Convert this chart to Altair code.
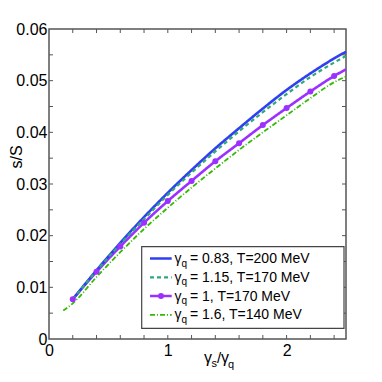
import altair as alt
import pandas as pd

# ---- data ----
series_names = ["g083_T200", "g115_T170", "g1_T170", "g16_T140"]
legend_texts = ["= 0.83, T=200 MeV", "= 1.15, T=170 MeV", "= 1, T=170 MeV", "= 1.6, T=140 MeV"]
colors = ["#2f3ff2", "#2fa87c", "#9b30ff", "#33bb00"]
dashes = [[1, 0], [4, 3], [1, 0], [5, 2, 1, 2]]

x_main = [0.2, 0.4, 0.6, 0.8, 1.0, 1.2, 1.4, 1.6, 1.8, 2.0, 2.2, 2.4, 2.5]
blue_y = [0.0077, 0.0133, 0.0186, 0.0236, 0.0283, 0.0327, 0.0369, 0.0408, 0.0446, 0.0482, 0.0514, 0.0543, 0.0556]
teal_y = [0.0077, 0.0132, 0.0184, 0.0232, 0.0279, 0.0322, 0.0363, 0.0402, 0.0439, 0.0474, 0.0507, 0.0535, 0.0548]
purple_y = [0.0077, 0.0130, 0.0179, 0.0225, 0.0267, 0.0306, 0.0344, 0.0379, 0.0414, 0.0447, 0.0479, 0.0509, 0.0522]
green_x = [0.12, 0.2, 0.4, 0.6, 0.8, 1.0, 1.2, 1.4, 1.6, 1.8, 2.0, 2.2, 2.4, 2.5]
green_y = [0.0055, 0.0069, 0.0120, 0.0168, 0.0213, 0.0254, 0.0293, 0.0330, 0.0366, 0.0400, 0.0433, 0.0466, 0.0497, 0.0508]

marker_x = [0.2, 0.4, 0.6, 0.8, 1.0, 1.2, 1.4, 1.6, 1.8, 2.0, 2.2, 2.4]
marker_y = [0.0077, 0.0130, 0.0179, 0.0225, 0.0267, 0.0306, 0.0344, 0.0379, 0.0414, 0.0447, 0.0479, 0.0509]

x_tick_vals = [0.2, 0.4, 0.6, 0.8, 1.0, 1.2, 1.4, 1.6, 1.8, 2.0, 2.2, 2.4]
y_tick_vals = [0.005, 0.01, 0.015, 0.02, 0.025, 0.03, 0.035, 0.04, 0.045, 0.05, 0.055]
x_label_vals = [0, 1, 2]
y_label_vals = [0, 0.01, 0.02, 0.03, 0.04, 0.05, 0.06]

W, H = 297, 310
FONT = "Liberation Sans"

rows = []
for name, xs, ys in [(series_names[0], x_main, blue_y), (series_names[1], x_main, teal_y),
                     (series_names[2], x_main, purple_y), (series_names[3], green_x, green_y)]:
    for xv, yv in zip(xs, ys):
        rows.append({"series": name, "x": xv, "y": yv})
df = pd.DataFrame(rows)
markers = pd.DataFrame({"x": marker_x, "y": marker_y})

xscale = alt.Scale(domain=[0, 2.5], nice=False, zero=False)
yscale = alt.Scale(domain=[0, 0.06], nice=False, zero=False)

ax_x = alt.Axis(values=x_label_vals, title=None, grid=False, ticks=False, domain=False,
                labelFontSize=16, labelFont=FONT, labelColor="black", labelPadding=3,
                labelFlush=False)
ax_y = alt.Axis(values=y_label_vals, title=None, grid=False, ticks=False, domain=False,
                labelFontSize=16, labelFont=FONT, labelColor="black", labelPadding=2,
                labelFlush=False,
                labelExpr="datum.value == 0 ? '0' : format(datum.value, '.2f')")

def X():
    return alt.X("x:Q", scale=xscale, axis=ax_x)

def Y():
    return alt.Y("y:Q", scale=yscale, axis=ax_y)

width_map = {series_names[0]: 2.6, series_names[1]: 2.2, series_names[2]: 2.6, series_names[3]: 1.8}
base_layers = []
for i, name in enumerate(series_names):
    sub = df[df.series == name]
    base_layers.append(
        alt.Chart(sub).mark_line(color=colors[i], strokeDash=dashes[i], strokeWidth=width_map[name],
                                 interpolate="monotone").encode(x=X(), y=Y())
    )

# draw order: purple, green, blue, teal
lines = [base_layers[2], base_layers[3], base_layers[0], base_layers[1]]

points = alt.Chart(markers).mark_circle(color=colors[2], size=36, opacity=1).encode(x=X(), y=Y())

# inward ticks on all four sides
xt = pd.DataFrame({"x": x_tick_vals})
yt = pd.DataFrame({"y": y_tick_vals})
tick_color = "#555"
tb = alt.Chart(xt).mark_rule(color=tick_color, strokeWidth=1).encode(
    x=X(), y=alt.value(H), y2=alt.value(H - 4))
tt = alt.Chart(xt).mark_rule(color=tick_color, strokeWidth=1).encode(
    x=X(), y=alt.value(0), y2=alt.value(4))
tl = alt.Chart(yt).mark_rule(color=tick_color, strokeWidth=1).encode(
    y=Y(), x=alt.value(0), x2=alt.value(4))
tr = alt.Chart(yt).mark_rule(color=tick_color, strokeWidth=1).encode(
    y=Y(), x=alt.value(W), x2=alt.value(W - 4))

# legend
one = pd.DataFrame({"a": [0]})
leg_box = alt.Chart(one).mark_rect(fill="white", stroke="#444", strokeWidth=1.2).encode(
    x=alt.value(92.7), x2=alt.value(295), y=alt.value(217.7), y2=alt.value(299.3))
row_y = [229.5, 248.3, 267.0, 285.8]
leg_layers = [leg_box]

def txt(s, x, y, size, angle=None, baseline="alphabetic", align="left"):
    kw = dict(font=FONT, fontSize=size, align=align, baseline=baseline, color="black")
    if angle is not None:
        kw["angle"] = angle
    return alt.Chart(pd.DataFrame({"t": [s]})).mark_text(**kw).encode(
        text="t:N", x=alt.value(x), y=alt.value(y))

for i in range(4):
    leg_layers.append(alt.Chart(one).mark_rule(
        color=colors[i], strokeDash=dashes[i], strokeWidth=width_map[series_names[i]]).encode(
        x=alt.value(101), x2=alt.value(122.7), y=alt.value(row_y[i])))
    if i == 2:
        leg_layers.append(alt.Chart(one).mark_circle(color=colors[2], size=36, opacity=1).encode(
            x=alt.value(112), y=alt.value(row_y[i])))
    bl = row_y[i] + 4.5
    leg_layers.append(txt("γ", 125.5, bl, 14))
    leg_layers.append(txt("q", 132.5, bl + 3.5, 10))
    leg_layers.append(txt(legend_texts[i], 141, bl, 14))

titles = [
    txt("s/S", -27, 128, 16, angle=270, baseline="alphabetic", align="center"),
    txt("γ", 155, 334, 16),
    txt("s", 162.5, 337.7, 11),
    txt("/", 168, 334, 15),
    txt("γ", 172, 334, 16),
    txt("q", 179, 338.5, 11),
]

chart = alt.layer(*lines, points, tb, tt, tl, tr, *leg_layers, *titles).properties(
    width=W, height=H,
    autosize=alt.AutoSizeParams(type="none"),
    padding={"left": 41, "top": 21, "right": 28, "bottom": 35},
    background="white",
).configure_view(stroke="#555", strokeWidth=1.5)

chart.save("out.html", embed_options={"renderer": "svg", "actions": False})
